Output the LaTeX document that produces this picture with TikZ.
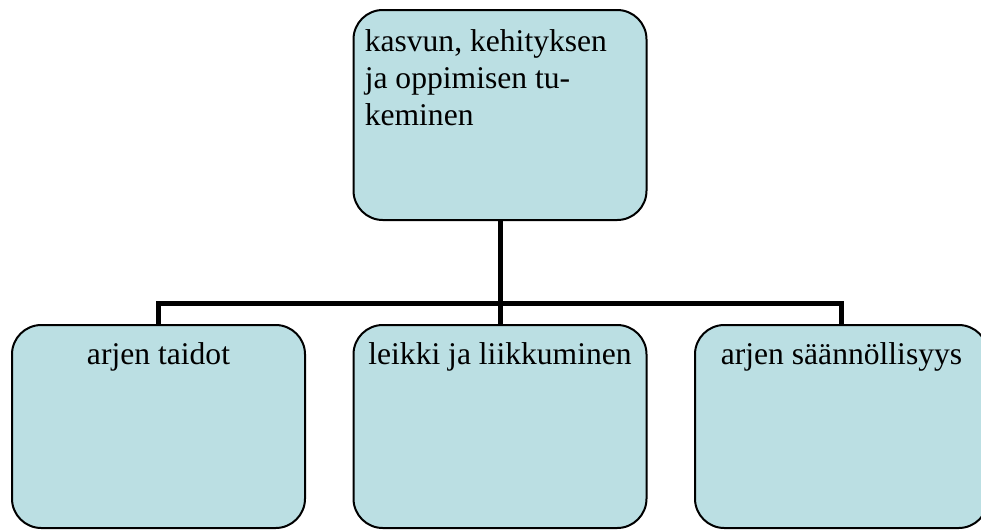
\documentclass[tikz,border=0pt]{standalone}
\usepackage{fontspec}
\setmainfont{Liberation Serif}
\definecolor{boxblue}{HTML}{BBDFE3}
\begin{document}
\begin{tikzpicture}[x=0.75pt, y=-0.75pt,
    box/.style={draw, line width=1.5pt, fill=boxblue, rounded corners=22pt,
        minimum width=219.75pt, inner sep=0pt},
    conn/.style={line width=3.75pt},
    txt/.style={font=\fontsize{23.7}{27.75}\selectfont, inner sep=0pt, align=left}]
\useasboundingbox (0,0) rectangle (981,529);

\node[box, minimum height=157.5pt] (top) at (500,115) {};
\foreach \x/\name in {158.5/left,500/mid,841.5/right}
{
    \node[box, minimum height=152.25pt] (\name) at (\x,426.5) {};
}

\coordinate (bus) at (500,303);
\draw[conn] (top.south) -- (mid.north);
\draw[conn] (left.north) -- (left.north |- bus) -- (right.north |- bus) -- (right.north);

\node[txt, anchor=north west] (toptext) at ([xshift=9pt,yshift=-15.3pt]top.north west)
    {kasvun, kehityksen\\ja oppimisen tu-\\keminen};
\foreach \name/\text in {left/arjen taidot,mid/leikki ja liikkuminen,right/arjen säännöllisyys}
{
    \node[txt, anchor=base] (\name text) at ([yshift=-30pt]\name.north) {\text};
}
\end{tikzpicture}
\end{document}
